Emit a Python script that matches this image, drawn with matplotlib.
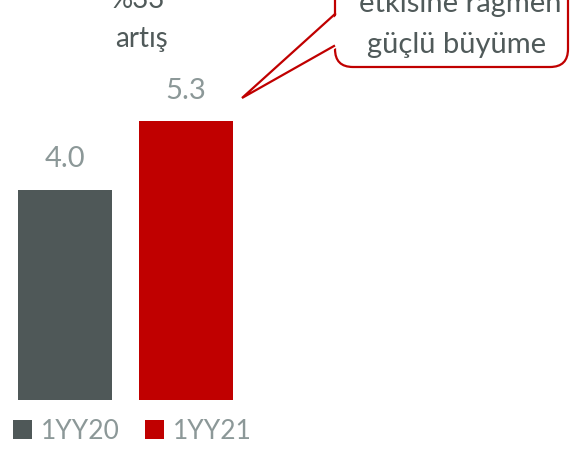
import matplotlib.pyplot as plt
from matplotlib.patches import FancyBboxPatch, Polygon

plt.rcParams['font.family'] = ['Lato', 'DejaVu Sans']

# data
periods = ["1YY20", "1YY21"]
values = [4.0, 5.3]
bar_colors = ["#4F5858", "#C00000"]
growth_text = ["%33", "artış"]
callout_text = ["etkisine rağmen", "güçlü büyüme"]

fig = plt.figure(figsize=(5.71, 4.49), dpi=100)

# bar axes: baseline at pixel row 400
ax = fig.add_axes([0, 49 / 449, 1, 400 / 449])
x = list(range(len(periods)))
bars = ax.bar(x, values, width=0.785, color=bar_colors, label=periods)
ax.set_xlim(-65 / 121, (571 - 65) / 121)
ax.set_ylim(0, 400 / 52.6)
ax.axis("off")

for xi, v in zip(x, values):
    ax.annotate(f"{v:.1f}", (xi, v), xytext=(0, 22), textcoords="offset points",
                ha="center", va="center", fontsize=21, color="#8C9898")

# legend
leg = fig.legend(bars, periods, loc="center left", bbox_to_anchor=(-0.018, 0.040),
                 ncol=2, frameon=False, fontsize=19, labelcolor="#8C9898",
                 handlelength=0.7, handleheight=0.7, handletextpad=0.35,
                 columnspacing=0.95)

# overlay in pixel coordinates for annotations
ov = fig.add_axes([0, 0, 1, 1], zorder=5)
ov.set_xlim(0, 571)
ov.set_ylim(449, 0)
ov.axis("off")

ov.text(138, 8, growth_text[0], ha="center", va="baseline", fontsize=20, color="#505A5A")
ov.text(141, 47, growth_text[1], ha="center", va="baseline", fontsize=20, color="#505A5A")

red = "#C00000"
box = FancyBboxPatch((335, -60), 233, 127,
                     boxstyle="round,pad=0,rounding_size=18",
                     facecolor="white", edgecolor=red, linewidth=1.6)
ov.add_patch(box)
ov.add_patch(Polygon([(338, 14), (242, 98), (338, 47)], closed=True,
                     facecolor="white", edgecolor="none", zorder=3))
ov.plot([335, 242, 334], [14, 98, 46], color=red, linewidth=1.6,
        solid_joinstyle="miter", zorder=4)

ov.text(460, 12, callout_text[0], ha="center", va="baseline", fontsize=21, color="#505A5A", zorder=6)
ov.text(457, 53, callout_text[1], ha="center", va="baseline", fontsize=21, color="#505A5A", zorder=6)

fig.savefig("out.png", dpi=100)
